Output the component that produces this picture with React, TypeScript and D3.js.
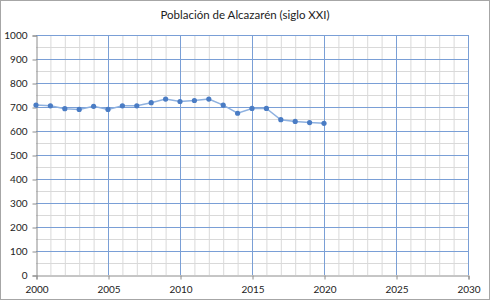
import React, { useEffect, useRef } from "react";
import * as d3 from "d3";

// Población de Alcazarén, 2000-2020
const years = [2000, 2001, 2002, 2003, 2004, 2005, 2006, 2007, 2008, 2009, 2010,
  2011, 2012, 2013, 2014, 2015, 2016, 2017, 2018, 2019, 2020];
const population = [708, 705, 693, 690, 703, 690, 705, 705, 718, 733, 723,
  727, 733, 708, 674, 694, 694, 647, 640, 635, 632];
const xTicks = [2000, 2005, 2010, 2015, 2020, 2025, 2030];
const yTicks = [0, 100, 200, 300, 400, 500, 600, 700, 800, 900, 1000];

const W = 490;
const H = 301;
const font = "Lato, 'Open Sans', sans-serif";

function App() {
  const svgRef = useRef(null);

  useEffect(() => {
    const svg = d3.select(svgRef.current);
    svg.selectAll("*").remove();

    const x = d3.scaleLinear().domain([2000, 2030]).range([36, 468]);
    const y = d3.scaleLinear().domain([0, 1000]).range([275, 35]);

    svg.append("rect")
      .attr("x", 0.5).attr("y", 0.5)
      .attr("width", W - 1).attr("height", H - 2)
      .attr("fill", "#fff").attr("stroke", "#a6a6a6");

    svg.append("text")
      .attr("x", W / 2).attr("y", 19)
      .attr("text-anchor", "middle")
      .attr("font-family", font).attr("font-size", 11.5)
      .attr("fill", "#222")
      .text("Población de Alcazarén (siglo XXI)");

    const grid = svg.append("g");
    // minor grid (gray)
    grid.selectAll(".vminor")
      .data(d3.range(2001, 2030).filter((v) => v % 5 !== 0))
      .join("line")
      .attr("x1", (d) => x(d) + 0.5).attr("x2", (d) => x(d) + 0.5)
      .attr("y1", y(1000)).attr("y2", y(0))
      .attr("stroke", "#d9d9d9");
    grid.selectAll(".hminor")
      .data(d3.range(50, 1000, 100))
      .join("line")
      .attr("x1", x(2000)).attr("x2", x(2030))
      .attr("y1", (d) => Math.round(y(d)) + 0.5).attr("y2", (d) => Math.round(y(d)) + 0.5)
      .attr("stroke", "#d9d9d9");
    // major grid (blue)
    grid.selectAll(".vmajor")
      .data(xTicks.slice(1))
      .join("line")
      .attr("x1", (d) => Math.round(x(d)) + 0.5).attr("x2", (d) => Math.round(x(d)) + 0.5)
      .attr("y1", y(1000)).attr("y2", y(0))
      .attr("stroke", "#7a9fd6");
    grid.selectAll(".hmajor")
      .data(yTicks.slice(1))
      .join("line")
      .attr("x1", x(2000)).attr("x2", x(2030))
      .attr("y1", (d) => Math.round(y(d)) + 0.5).attr("y2", (d) => Math.round(y(d)) + 0.5)
      .attr("stroke", "#7a9fd6");

    // axes
    const yAxis = d3.axisLeft(y).tickValues(yTicks).tickFormat(d3.format("d")).tickSize(4).tickPadding(5);
    const ga = svg.append("g").attr("transform", `translate(${x(2000) + 0.5},0.5)`).call(yAxis);
    const xAxis = d3.axisBottom(x).tickValues(xTicks).tickFormat(d3.format("d")).tickSize(4).tickPadding(6);
    const gb = svg.append("g").attr("transform", `translate(0.5,${y(0) + 0.5})`).call(xAxis);
    [ga, gb].forEach((g) => {
      g.select(".domain").attr("stroke", "#8c8c8c");
      g.selectAll(".tick line").attr("stroke", "#8c8c8c");
      g.selectAll("text").attr("font-family", font).attr("font-size", 10).attr("fill", "#222");
    });

    // series
    const line = d3.line<number>()
      .x((d, i) => x(years[i]))
      .y((d) => y(d));
    svg.append("path")
      .datum(population)
      .attr("d", line)
      .attr("fill", "none")
      .attr("stroke", "#8eb1e0")
      .attr("stroke-width", 1.5);
    svg.selectAll(".pt")
      .data(population)
      .join("circle")
      .attr("cx", (d, i) => x(years[i]))
      .attr("cy", (d) => y(d))
      .attr("r", 2.6)
      .attr("fill", "#4a7cc4");
  }, []);

  return (
    <div style={{ position: "absolute", left: 0, top: 0 }}>
      <svg ref={svgRef} width={W} height={H} style={{ display: "block" }} />
    </div>
  );
}

export default App;
